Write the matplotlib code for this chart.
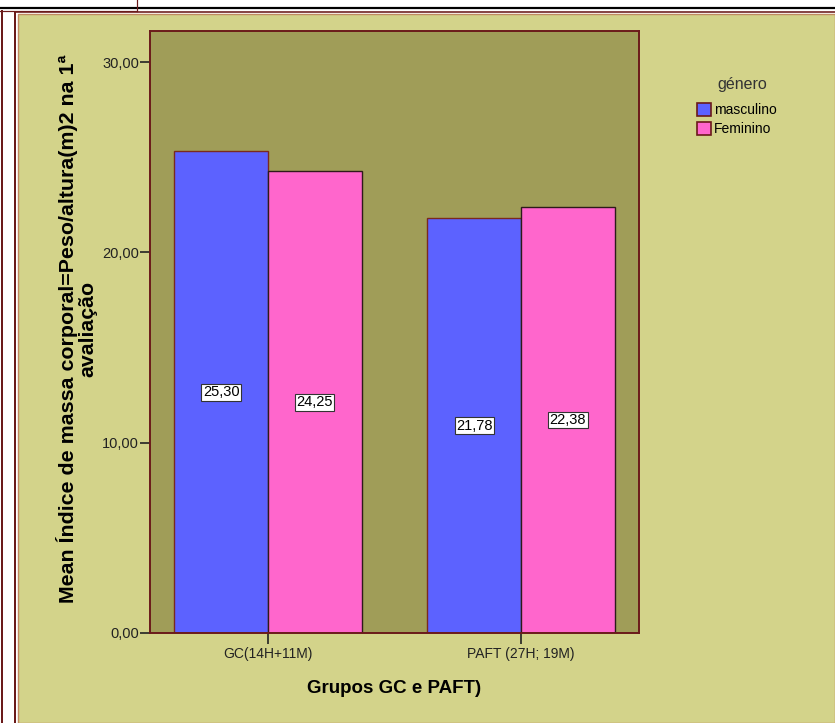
"""Mean BMI by group and gender, SPSS-style clustered bar chart."""
import matplotlib

matplotlib.use("Agg")
import matplotlib.pyplot as plt
import numpy as np
from matplotlib.lines import Line2D
from matplotlib.patches import Rectangle

# data
GROUPS = ["GC(14H+11M)", "PAFT (27H; 19M)"]
GENDERS = ["masculino", "Feminino"]
MASCULINO = [25.30, 21.78]
FEMININO = [24.25, 22.38]
YTICKS = [0, 10, 20, 30]

OUTER = "#d3d38a"
PLOT_BG = "#a09d58"
BLUE = "#5c62ff"
PINK = "#ff66cc"
EDGE_M = "#7a2a1f"
EDGE_F = "#2e1a1a"
FRAME = "#6b1a1a"

W, H = 835, 723
plt.rcParams.update({
    "font.family": ["Liberation Sans", "DejaVu Sans"],
    "font.size": 10,
})

fig = plt.figure(figsize=(W / 100, H / 100), dpi=100)
fig.patch.set_facecolor("white")


def px(x, y):
    return x / W, 1 - y / H


# outer khaki panel and frame lines
x0 = 18 / W
fig.patches.append(Rectangle((x0, 0), 1 - x0, 1 - 14 / H, transform=fig.transFigure,
                             facecolor=OUTER, edgecolor="#c08a60", lw=1, zorder=-10))
for (xa, ya), (xb, yb), c, lw in [
    ((0, 8), (W, 8), "black", 2.2),
    ((15, 12), (W, 12), FRAME, 1.6),
    ((0, 10.5), (137, 10.5), FRAME, 1.2),
    ((137, 0), (137, 10.5), FRAME, 1.2),
    ((2, 11), (2, H), FRAME, 2.0),
    ((15, 12), (15, H), FRAME, 2.0),
]:
    p1, p2 = px(xa, ya), px(xb, yb)
    fig.add_artist(Line2D([p1[0], p2[0]], [p1[1], p2[1]], transform=fig.transFigure,
                          color=c, lw=lw * 0.72, zorder=-5))

ax = fig.add_axes([150 / W, 1 - 633 / H, 489 / W, 602 / H])
ax.set_zorder(2)
ax.set_facecolor(PLOT_BG)

x = np.arange(len(GROUPS))
bw = 0.37
b1 = ax.bar(x - bw / 2, MASCULINO, bw, color=BLUE, edgecolor=EDGE_M, lw=1.0, label=GENDERS[0])
b2 = ax.bar(x + bw / 2, FEMININO, bw, color=PINK, edgecolor=EDGE_F, lw=1.0, label=GENDERS[1])

for bars, vals in [(b1, MASCULINO), (b2, FEMININO)]:
    for bar, v in zip(bars, vals):
        ax.text(bar.get_x() + bar.get_width() / 2, v / 2, f"{v:.2f}".replace(".", ","),
                ha="center", va="center", fontsize=10.5,
                bbox=dict(boxstyle="square,pad=0.1", fc="white", ec="#333333", lw=0.8))

ax.set_xlim(-0.466, 1.466)
ax.set_ylim(0, 31.63)
ax.set_yticks(YTICKS)
ax.set_yticklabels([f"{t:.2f}".replace(".", ",") for t in YTICKS], fontsize=10.5, color="#222222")
ax.set_xticks(x)
ax.set_xticklabels(GROUPS, fontsize=10, color="#222222")
ax.tick_params(axis="both", direction="out", length=7, width=1.2, color="#222222", pad=1)
ax.tick_params(axis="x", length=8, pad=2)
for s in ax.spines.values():
    s.set_color(FRAME)
    s.set_linewidth(1.4)

ax.set_xlabel("Grupos GC e PAFT)", fontsize=13.5, fontweight="bold", labelpad=14)
ax.set_ylabel("Mean Índice de massa corporal=Peso/altura(m)2 na 1ª\navaliação",
              fontsize=15.4, fontweight="bold", linespacing=1.0)
ax.yaxis.set_label_coords(-0.108, 0.505)

# legend: title drawn separately to get the SPSS gap
fig.text(*px(742, 84), "género", ha="center", va="center", fontsize=11.5, color="#333333")
leg = fig.legend(handles=[b1, b2], labels=GENDERS,
                 loc="upper left", bbox_to_anchor=px(694, 100), frameon=False,
                 fontsize=10, handlelength=1.0, handleheight=1.1,
                 handletextpad=0.25, labelspacing=0.35, borderaxespad=0,
                 borderpad=0.2)
for h in leg.legend_handles:
    h.set_edgecolor(FRAME)
    h.set_linewidth(1.2)

fig.savefig("out.png", dpi=100)
